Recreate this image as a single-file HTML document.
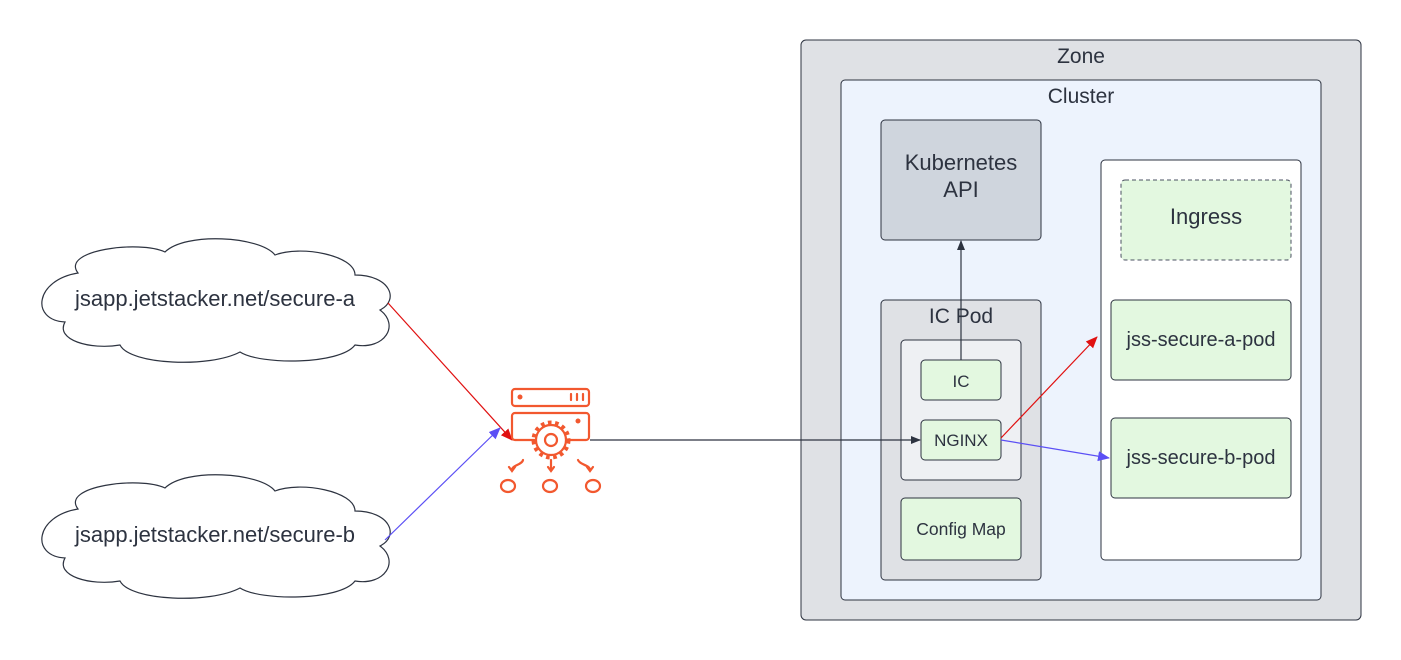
<!DOCTYPE html>
<html><head><meta charset="utf-8"><style>
body{margin:0;background:#fff;}
svg{display:block;font-family:"Liberation Sans",sans-serif;}
</style></head><body>
<svg width="1401" height="660" viewBox="0 0 1401 660">
<defs>
<marker id="ak" markerWidth="10" markerHeight="10" refX="9" refY="5" orient="auto" markerUnits="userSpaceOnUse"><path d="M0,1 L10,5 L0,9 z" fill="#2d3340"/></marker>
<marker id="ar" markerWidth="12" markerHeight="12" refX="11" refY="6" orient="auto" markerUnits="userSpaceOnUse"><path d="M0,1 L12,6 L0,11 z" fill="#e01010"/></marker>
<marker id="ab" markerWidth="12" markerHeight="12" refX="11" refY="6" orient="auto" markerUnits="userSpaceOnUse"><path d="M0,1 L12,6 L0,11 z" fill="#5b4ff5"/></marker>
</defs>
<g fill="#fff" stroke="#2d3340" stroke-width="1.2">
<path d="M78,273 C60,250 140,240 165,252 C185,232 260,236 275,255 C300,245 355,255 355,275 C390,275 400,300 380,310 C400,325 385,350 355,345 C340,365 260,365 240,352 C210,368 130,365 120,345 C90,350 55,340 65,322 C30,320 35,280 78,273 Z"/>
</g>
<g transform="translate(0,236)" fill="#fff" stroke="#2d3340" stroke-width="1.2">
<path d="M78,273 C60,250 140,240 165,252 C185,232 260,236 275,255 C300,245 355,255 355,275 C390,275 400,300 380,310 C400,325 385,350 355,345 C340,365 260,365 240,352 C210,368 130,365 120,345 C90,350 55,340 65,322 C30,320 35,280 78,273 Z"/>
</g>
<text x="215" y="306" font-size="22" fill="#2d3340" text-anchor="middle">jsapp.jetstacker.net/secure-a</text>
<text x="215" y="542" font-size="22" fill="#2d3340" text-anchor="middle">jsapp.jetstacker.net/secure-b</text>

<rect x="801" y="40" width="560" height="580" rx="5" fill="#dfe1e5" stroke="#2d3340"/>
<text x="1081" y="63" font-size="21" fill="#2d3340" text-anchor="middle">Zone</text>
<rect x="841" y="80" width="480" height="520" rx="4" fill="#edf3fd" stroke="#2d3340"/>
<text x="1081" y="103" font-size="21" fill="#2d3340" text-anchor="middle">Cluster</text>
<rect x="881" y="120" width="160" height="120" rx="4" fill="#cfd5dd" stroke="#2d3340"/>
<text x="961" y="170" font-size="22" fill="#2d3340" text-anchor="middle">Kubernetes</text>
<text x="961" y="197" font-size="22" fill="#2d3340" text-anchor="middle">API</text>
<rect x="881" y="300" width="160" height="280" rx="4" fill="#dfe1e5" stroke="#2d3340"/>
<text x="961" y="323" font-size="21" fill="#2d3340" text-anchor="middle">IC Pod</text>
<rect x="901" y="340" width="120" height="140" rx="4" fill="#eef0f3" stroke="#2d3340"/>
<rect x="921" y="360" width="80" height="40" rx="4" fill="#e3f8e0" stroke="#2d3340"/>
<text x="961" y="387" font-size="17" fill="#2d3340" text-anchor="middle">IC</text>
<rect x="921" y="420" width="80" height="40" rx="4" fill="#e3f8e0" stroke="#2d3340"/>
<text x="961" y="446" font-size="17" fill="#2d3340" text-anchor="middle">NGINX</text>
<rect x="901" y="498" width="120" height="62" rx="4" fill="#e3f8e0" stroke="#2d3340"/>
<text x="961" y="535" font-size="17.5" fill="#2d3340" text-anchor="middle">Config Map</text>
<rect x="1101" y="160" width="200" height="400" rx="4" fill="#fff" stroke="#2d3340"/>
<rect x="1121" y="180" width="170" height="80" rx="4" fill="#e3f8e0" stroke="#4a5060" stroke-dasharray="4,3"/>
<text x="1206" y="224" font-size="22" fill="#2d3340" text-anchor="middle">Ingress</text>
<rect x="1111" y="300" width="180" height="80" rx="4" fill="#e3f8e0" stroke="#2d3340"/>
<text x="1201" y="346" font-size="20" fill="#2d3340" text-anchor="middle">jss-secure-a-pod</text>
<rect x="1111" y="418" width="180" height="80" rx="4" fill="#e3f8e0" stroke="#2d3340"/>
<text x="1201" y="464" font-size="20" fill="#2d3340" text-anchor="middle">jss-secure-b-pod</text>

<line x1="388" y1="303" x2="512" y2="440" stroke="#e01010" stroke-width="1.2" marker-end="url(#ar)"/>
<line x1="385" y1="540" x2="500" y2="428" stroke="#5b4ff5" stroke-width="1.2" marker-end="url(#ab)"/>
<line x1="590" y1="440" x2="920" y2="440" stroke="#2d3340" stroke-width="1.2" marker-end="url(#ak)"/>
<line x1="961" y1="360" x2="961" y2="241" stroke="#2d3340" stroke-width="1.2" marker-end="url(#ak)"/>
<line x1="1001" y1="438" x2="1097" y2="337" stroke="#e01010" stroke-width="1.2" marker-end="url(#ar)"/>
<line x1="1001" y1="440" x2="1109" y2="458" stroke="#5b4ff5" stroke-width="1.2" marker-end="url(#ab)"/>

<g stroke="#f2582f" stroke-width="2.2" fill="none" stroke-linecap="round">
<rect x="512" y="389" width="77" height="17" rx="3"/>
<rect x="512" y="413" width="77" height="27" rx="3" fill="#fff"/>
<circle cx="551" cy="440" r="15" fill="#fff"/>
<circle cx="551" cy="440" r="6"/>
<line x1="571" y1="394" x2="571" y2="400"/><line x1="577" y1="394" x2="577" y2="400"/><line x1="583" y1="394" x2="583" y2="400"/>
<path d="M523,460 C522,465 512,465 512,470 M509,467 L512,471 L515,467"/>
<path d="M551,460 L551,471 M548,467 L551,471 L554,467"/>
<path d="M578,460 C580,465 590,465 590,470 M587,467 L590,471 L593,467"/>
<ellipse cx="508" cy="486" rx="7" ry="6"/>
<ellipse cx="550" cy="486" rx="7" ry="6"/>
<ellipse cx="593" cy="486" rx="7" ry="6"/>
</g>
<g fill="#f2582f"><circle cx="520" cy="397" r="2.5"/><circle cx="578" cy="421" r="2.5"/></g>
<g stroke="#f2582f" stroke-width="5" stroke-dasharray="3.5,3.5">
<circle cx="551" cy="440" r="17" fill="none"/>
</g>
</svg>
</body></html>
